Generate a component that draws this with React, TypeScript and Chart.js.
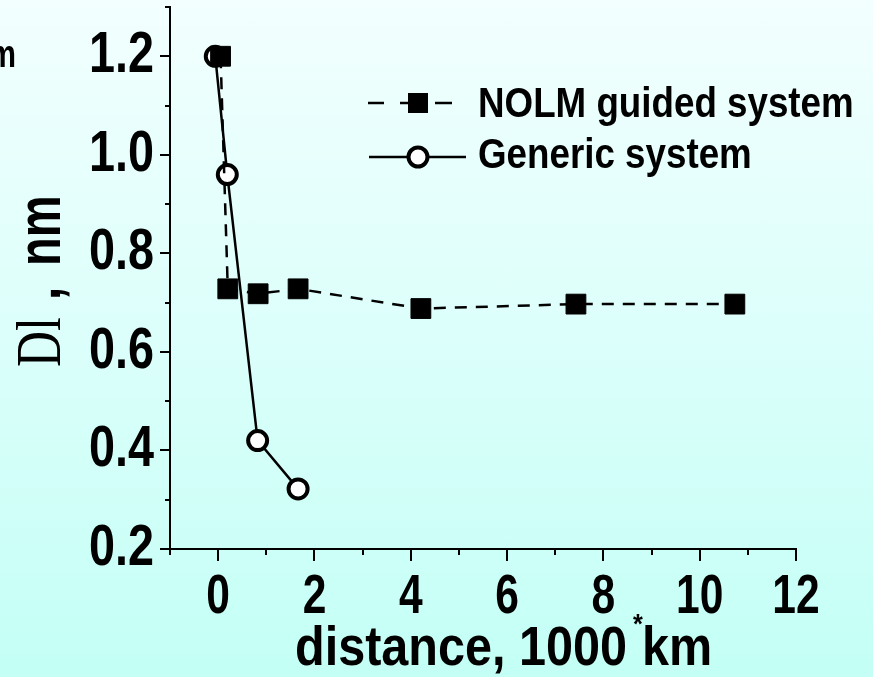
import React, { useEffect, useRef } from 'react';
import { Chart, registerables } from 'chart.js';

Chart.register(...registerables);

// ---- Data ----
const nolmX = [0.05, 0.2, 0.83, 1.66, 4.21, 7.43, 10.73];
const nolmY = [1.2, 0.728, 0.718, 0.728, 0.688, 0.697, 0.697];
const genericX = [-0.06, 0.19, 0.82, 1.66];
const genericY = [1.2, 0.96, 0.42, 0.322];

const seriesNames = ['NOLM guided system', 'Generic system'];

const yMajorTicks = [0.2, 0.4, 0.6, 0.8, 1.0, 1.2];
const yTickLabels = ['0.2', '0.4', '0.6', '0.8', '1.0', '1.2'];
const yMinorTicks = [0.3, 0.5, 0.7, 0.9, 1.1, 1.3];
const xMajorTicks = [0, 2, 4, 6, 8, 10, 12];
const xTickLabels = ['0', '2', '4', '6', '8', '10', '12'];
const xMinorTicks = [-1, 1, 3, 5, 7, 9, 11];

const xTitleMain = 'distance, 1000';
const xTitleStar = '*';
const xTitleUnit = 'km';
const yTitleSymbol = 'Dl';
const yTitleComma = ',';
const yTitleUnit = 'nm';
const cornerFragment = 'm';

const SANS = '"Liberation Sans", Arial, Helvetica, sans-serif';
const SERIF = '"Liberation Serif", "Times New Roman", serif';

function drawScaled(ctx: CanvasRenderingContext2D, text: string, x: number, y: number, sx: number, align: CanvasTextAlign) {
  ctx.save();
  ctx.translate(x, y);
  ctx.scale(sx, 1);
  ctx.textAlign = align;
  ctx.textBaseline = 'alphabetic';
  ctx.fillText(text, 0, 0);
  ctx.restore();
}

const decorPlugin = {
  id: 'decor',
  afterDraw(chart: any) {
    const { ctx, chartArea, scales } = chart;
    const xs = scales.x;
    const ys = scales.y;
    const left = chartArea.left;
    const bottom = chartArea.bottom;
    ctx.save();
    ctx.strokeStyle = '#000';
    ctx.fillStyle = '#000';
    ctx.lineWidth = 2;
    // y ticks
    yMajorTicks.forEach((v) => {
      const py = Math.round(ys.getPixelForValue(v));
      ctx.beginPath(); ctx.moveTo(left - 10, py); ctx.lineTo(left, py); ctx.stroke();
    });
    yMinorTicks.forEach((v) => {
      const py = Math.round(ys.getPixelForValue(v));
      ctx.beginPath(); ctx.moveTo(left - 5, py); ctx.lineTo(left, py); ctx.stroke();
    });
    // x ticks
    xMajorTicks.forEach((v) => {
      const px = Math.round(xs.getPixelForValue(v));
      ctx.beginPath(); ctx.moveTo(px, bottom); ctx.lineTo(px, bottom + 12); ctx.stroke();
    });
    xMinorTicks.forEach((v) => {
      const px = Math.round(xs.getPixelForValue(v));
      ctx.beginPath(); ctx.moveTo(px, bottom); ctx.lineTo(px, bottom + 6); ctx.stroke();
    });
    // tick labels
    ctx.font = `bold 57px ${SANS}`;
    yMajorTicks.forEach((v, i) => {
      const py = ys.getPixelForValue(v);
      drawScaled(ctx, yTickLabels[i], left - 16, py + 16, 0.82, 'right');
    });
    ctx.font = `bold 56px ${SANS}`;
    xMajorTicks.forEach((v, i) => {
      const px = xs.getPixelForValue(v);
      drawScaled(ctx, xTickLabels[i], px, bottom + 64, 0.76, 'center');
    });
    // x title
    ctx.font = `bold 56px ${SANS}`;
    drawScaled(ctx, xTitleMain, 295, 665, 0.867, 'left');
    drawScaled(ctx, xTitleUnit, 642, 665, 0.867, 'left');
    ctx.font = `bold 28px ${SANS}`;
    drawScaled(ctx, xTitleStar, 638, 633, 0.9, 'center');
    // y title (rotated)
    ctx.save();
    ctx.translate(60, 367);
    ctx.rotate(-Math.PI / 2);
    ctx.font = `63px ${SERIF}`;
    drawScaled(ctx, yTitleSymbol, 0, 0, 0.79, 'left');
    ctx.font = `bold 62px ${SANS}`;
    drawScaled(ctx, yTitleComma, 67, 0, 0.76, 'left');
    drawScaled(ctx, yTitleUnit, 101, 0, 0.76, 'left');
    ctx.restore();
    // corner fragment
    ctx.font = `bold 38px ${SANS}`;
    drawScaled(ctx, cornerFragment, 16, 67, 0.8, 'right');
    // legend
    ctx.lineWidth = 2.5;
    ctx.beginPath();
    ctx.moveTo(368, 103); ctx.lineTo(384, 103);
    ctx.moveTo(400, 103); ctx.lineTo(410, 103);
    ctx.moveTo(435, 103); ctx.lineTo(452, 103);
    ctx.stroke();
    ctx.fillStyle = '#000';
    ctx.fillRect(408, 93, 20, 20);
    ctx.beginPath();
    ctx.moveTo(369, 157); ctx.lineTo(466, 157);
    ctx.stroke();
    ctx.beginPath();
    ctx.arc(418, 157, 9.5, 0, Math.PI * 2);
    ctx.fillStyle = '#fff';
    ctx.fill();
    ctx.lineWidth = 4;
    ctx.stroke();
    ctx.fillStyle = '#000';
    ctx.font = `bold 42px ${SANS}`;
    drawScaled(ctx, seriesNames[0], 478, 117, 0.875, 'left');
    drawScaled(ctx, seriesNames[1], 478, 168, 0.875, 'left');
    ctx.restore();
  },
};

export default function App() {
  const canvasRef = useRef<HTMLCanvasElement | null>(null);

  useEffect(() => {
    const canvas = canvasRef.current;
    if (!canvas) return;
    const chart = new Chart(canvas, {
      type: 'line',
      data: {
        datasets: [
          {
            label: seriesNames[0],
            data: nolmX.map((x, i) => ({ x, y: nolmY[i] })),
            borderColor: '#000',
            borderWidth: 2.5,
            borderDash: [12, 9],
            pointStyle: 'rect',
            pointRadius: 14,
            pointBackgroundColor: '#000',
            pointBorderColor: '#000',
            pointBorderWidth: 1,
            tension: 0,
            clip: false as any,
          },
          {
            label: seriesNames[1],
            data: genericX.map((x, i) => ({ x, y: genericY[i] })),
            borderColor: '#000',
            borderWidth: 2.5,
            pointStyle: 'circle',
            pointRadius: 9.5,
            pointBackgroundColor: '#fff',
            pointBorderColor: '#000',
            pointBorderWidth: 4,
            tension: 0,
            clip: false as any,
          },
        ],
      },
      options: {
        animation: false,
        responsive: false,
        devicePixelRatio: 1,
        layout: { autoPadding: false, padding: { left: 162, right: 77, top: 7, bottom: 120 } },
        plugins: { legend: { display: false }, tooltip: { enabled: false } },
        scales: {
          x: {
            type: 'linear',
            min: -1,
            max: 12,
            grid: { display: false },
            ticks: { display: false },
            border: { display: true, color: '#000', width: 2 },
          },
          y: {
            type: 'linear',
            min: 0.2,
            max: 1.3,
            grid: { display: false },
            ticks: { display: false },
            border: { display: true, color: '#000', width: 2 },
          },
        },
      },
      plugins: [decorPlugin],
    });
    return () => chart.destroy();
  }, []);

  return (
    <div
      style={{
        position: 'absolute',
        left: 0,
        top: 0,
        width: 873,
        height: 677,
        background: 'linear-gradient(to bottom, #f2fffe 0%, #dcfffb 50%, #c3fff5 100%)',
      }}
    >
      <canvas ref={canvasRef} width={873} height={677} style={{ display: 'block' }} />
    </div>
  );
}
